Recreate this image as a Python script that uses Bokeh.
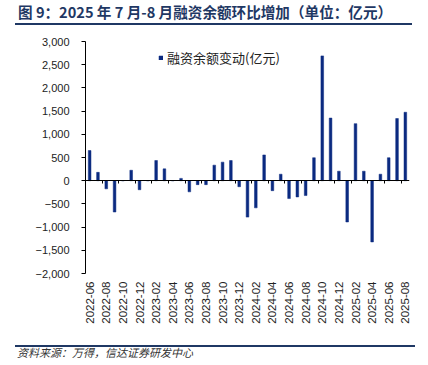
from math import pi
from bokeh.plotting import figure
from bokeh.models import (ColumnDataSource, Range1d, FixedTicker, LinearAxis,
                          Legend, LegendItem, Div)
from bokeh.layouts import column
from bokeh.embed import file_html
from bokeh.resources import INLINE

title_text = "图 9：2025 年 7 月-8 月融资余额环比增加（单位：亿元）"
source_text = "资料来源：万得，信达证券研发中心"
series_name = "融资余额变动(亿元)"

months = [
    "2022-06", "2022-07", "2022-08", "2022-09", "2022-10", "2022-11", "2022-12",
    "2023-01", "2023-02", "2023-03", "2023-04", "2023-05", "2023-06", "2023-07",
    "2023-08", "2023-09", "2023-10", "2023-11", "2023-12", "2024-01", "2024-02",
    "2024-03", "2024-04", "2024-05", "2024-06", "2024-07", "2024-08", "2024-09",
    "2024-10", "2024-11", "2024-12", "2025-01", "2025-02", "2025-03", "2025-04",
    "2025-05", "2025-06", "2025-07", "2025-08",
]
changes = [
    650, 180, -175, -675, 0, 225, -195,
    0, 435, 255, 0, 50, -240, -85,
    -85, 335, 400, 435, -130, -785, -585,
    555, -215, 140, -385, -350, -320, 495,
    2690, 1350, 205, -890, 1230, 205, -1320,
    140, 495, 1340, 1475,
]
y_ticks = [-2000, -1500, -1000, -500, 0, 500, 1000, 1500, 2000, 2500, 3000]
y_tick_labels = ["−2,000", "−1,500", "−1,000", "−500", "0", "500",
                 "1,000", "1,500", "2,000", "2,500", "3,000"]

NAVY = "#1F3864"
BAR = "#0B2A80"

idx = list(range(len(months)))
src = ColumnDataSource(dict(x=idx, v=changes))

p = figure(width=412, height=307,
           x_range=Range1d(-0.5, len(months) - 0.5),
           y_range=Range1d(y_ticks[0], y_ticks[-1]),
           output_backend="svg", toolbar_location=None,
           min_border_left=85, min_border_right=3,
           min_border_top=8, min_border_bottom=67)
p.outline_line_color = None
p.xgrid.visible = False
p.ygrid.visible = False
p.background_fill_color = None
p.border_fill_color = None

r = p.vbar(x="x", top="v", bottom=0, width=0.32, fill_color=BAR,
           line_color=BAR, line_width=0.5, source=src)

# category labels along the bottom (every second month)
xa = p.xaxis[0]
even = idx[::2]
xa.ticker = FixedTicker(ticks=even)
xa.major_label_overrides = {i: months[i] for i in even}
xa.major_label_orientation = pi / 2
xa.axis_line_color = None
xa.major_tick_line_color = None
xa.minor_tick_line_color = None
xa.major_tick_in = 0
xa.major_tick_out = 0
xa.major_label_standoff = 8
xa.major_label_text_font = "Liberation Sans"
xa.major_label_text_font_size = "11.5px"
xa.major_label_text_color = "#222222"

# axis line through zero, with ticks between category pairs
zero_axis = LinearAxis(fixed_location=0,
                       ticker=FixedTicker(ticks=[i + 0.5 for i in idx[1:-1:2]]),
                       major_tick_in=0, major_tick_out=3,
                       major_tick_line_color="black",
                       minor_tick_line_color=None,
                       axis_line_color="black",
                       major_label_text_color=None)
p.add_layout(zero_axis, "below")

ya = p.yaxis[0]
ya.ticker = FixedTicker(ticks=y_ticks)
ya.major_label_overrides = dict(zip(y_ticks, y_tick_labels))
ya.minor_tick_line_color = None
ya.major_tick_in = 0
ya.major_tick_out = 4
ya.axis_line_color = "black"
ya.major_tick_line_color = "black"
ya.major_label_standoff = 12
ya.major_label_text_font = "Liberation Sans"
ya.major_label_text_font_size = "11px"
ya.major_label_text_color = "#222222"

legend = Legend(items=[LegendItem(label=series_name, renderers=[r])],
                location=(73, 206), padding=0, margin=0, spacing=0,
                glyph_width=5, glyph_height=5, label_height=12,
                label_standoff=4, border_line_color=None,
                background_fill_alpha=0,
                label_text_font="Noto Sans CJK SC",
                label_text_font_size="13px", label_text_color="#222222")
p.add_layout(legend)

title_div = Div(
    text=('<div style="margin-left:10px;width:397px;height:20px;padding-left:3px;'
          f'border-bottom:2px solid {NAVY};font-family:\'Noto Sans CJK SC\';'
          f'font-weight:bold;font-size:14.6px;line-height:14px;color:{NAVY};'
          f'white-space:nowrap;">{title_text}</div>'),
    width=412, height=23)

foot_div = Div(
    text=(f'<div style="margin-left:10px;width:400px;border-top:2px solid {NAVY};'
          'padding-top:0px;padding-left:2px;font-family:\'Noto Sans CJK SC\';'
          'font-style:italic;font-size:11px;line-height:11px;color:#333333;'
          f'white-space:nowrap;">{source_text}</div>'),
    width=412, height=16)

layout = column(title_div, p, foot_div, spacing=0)

open("out.html", "w").write(file_html(layout, INLINE))
